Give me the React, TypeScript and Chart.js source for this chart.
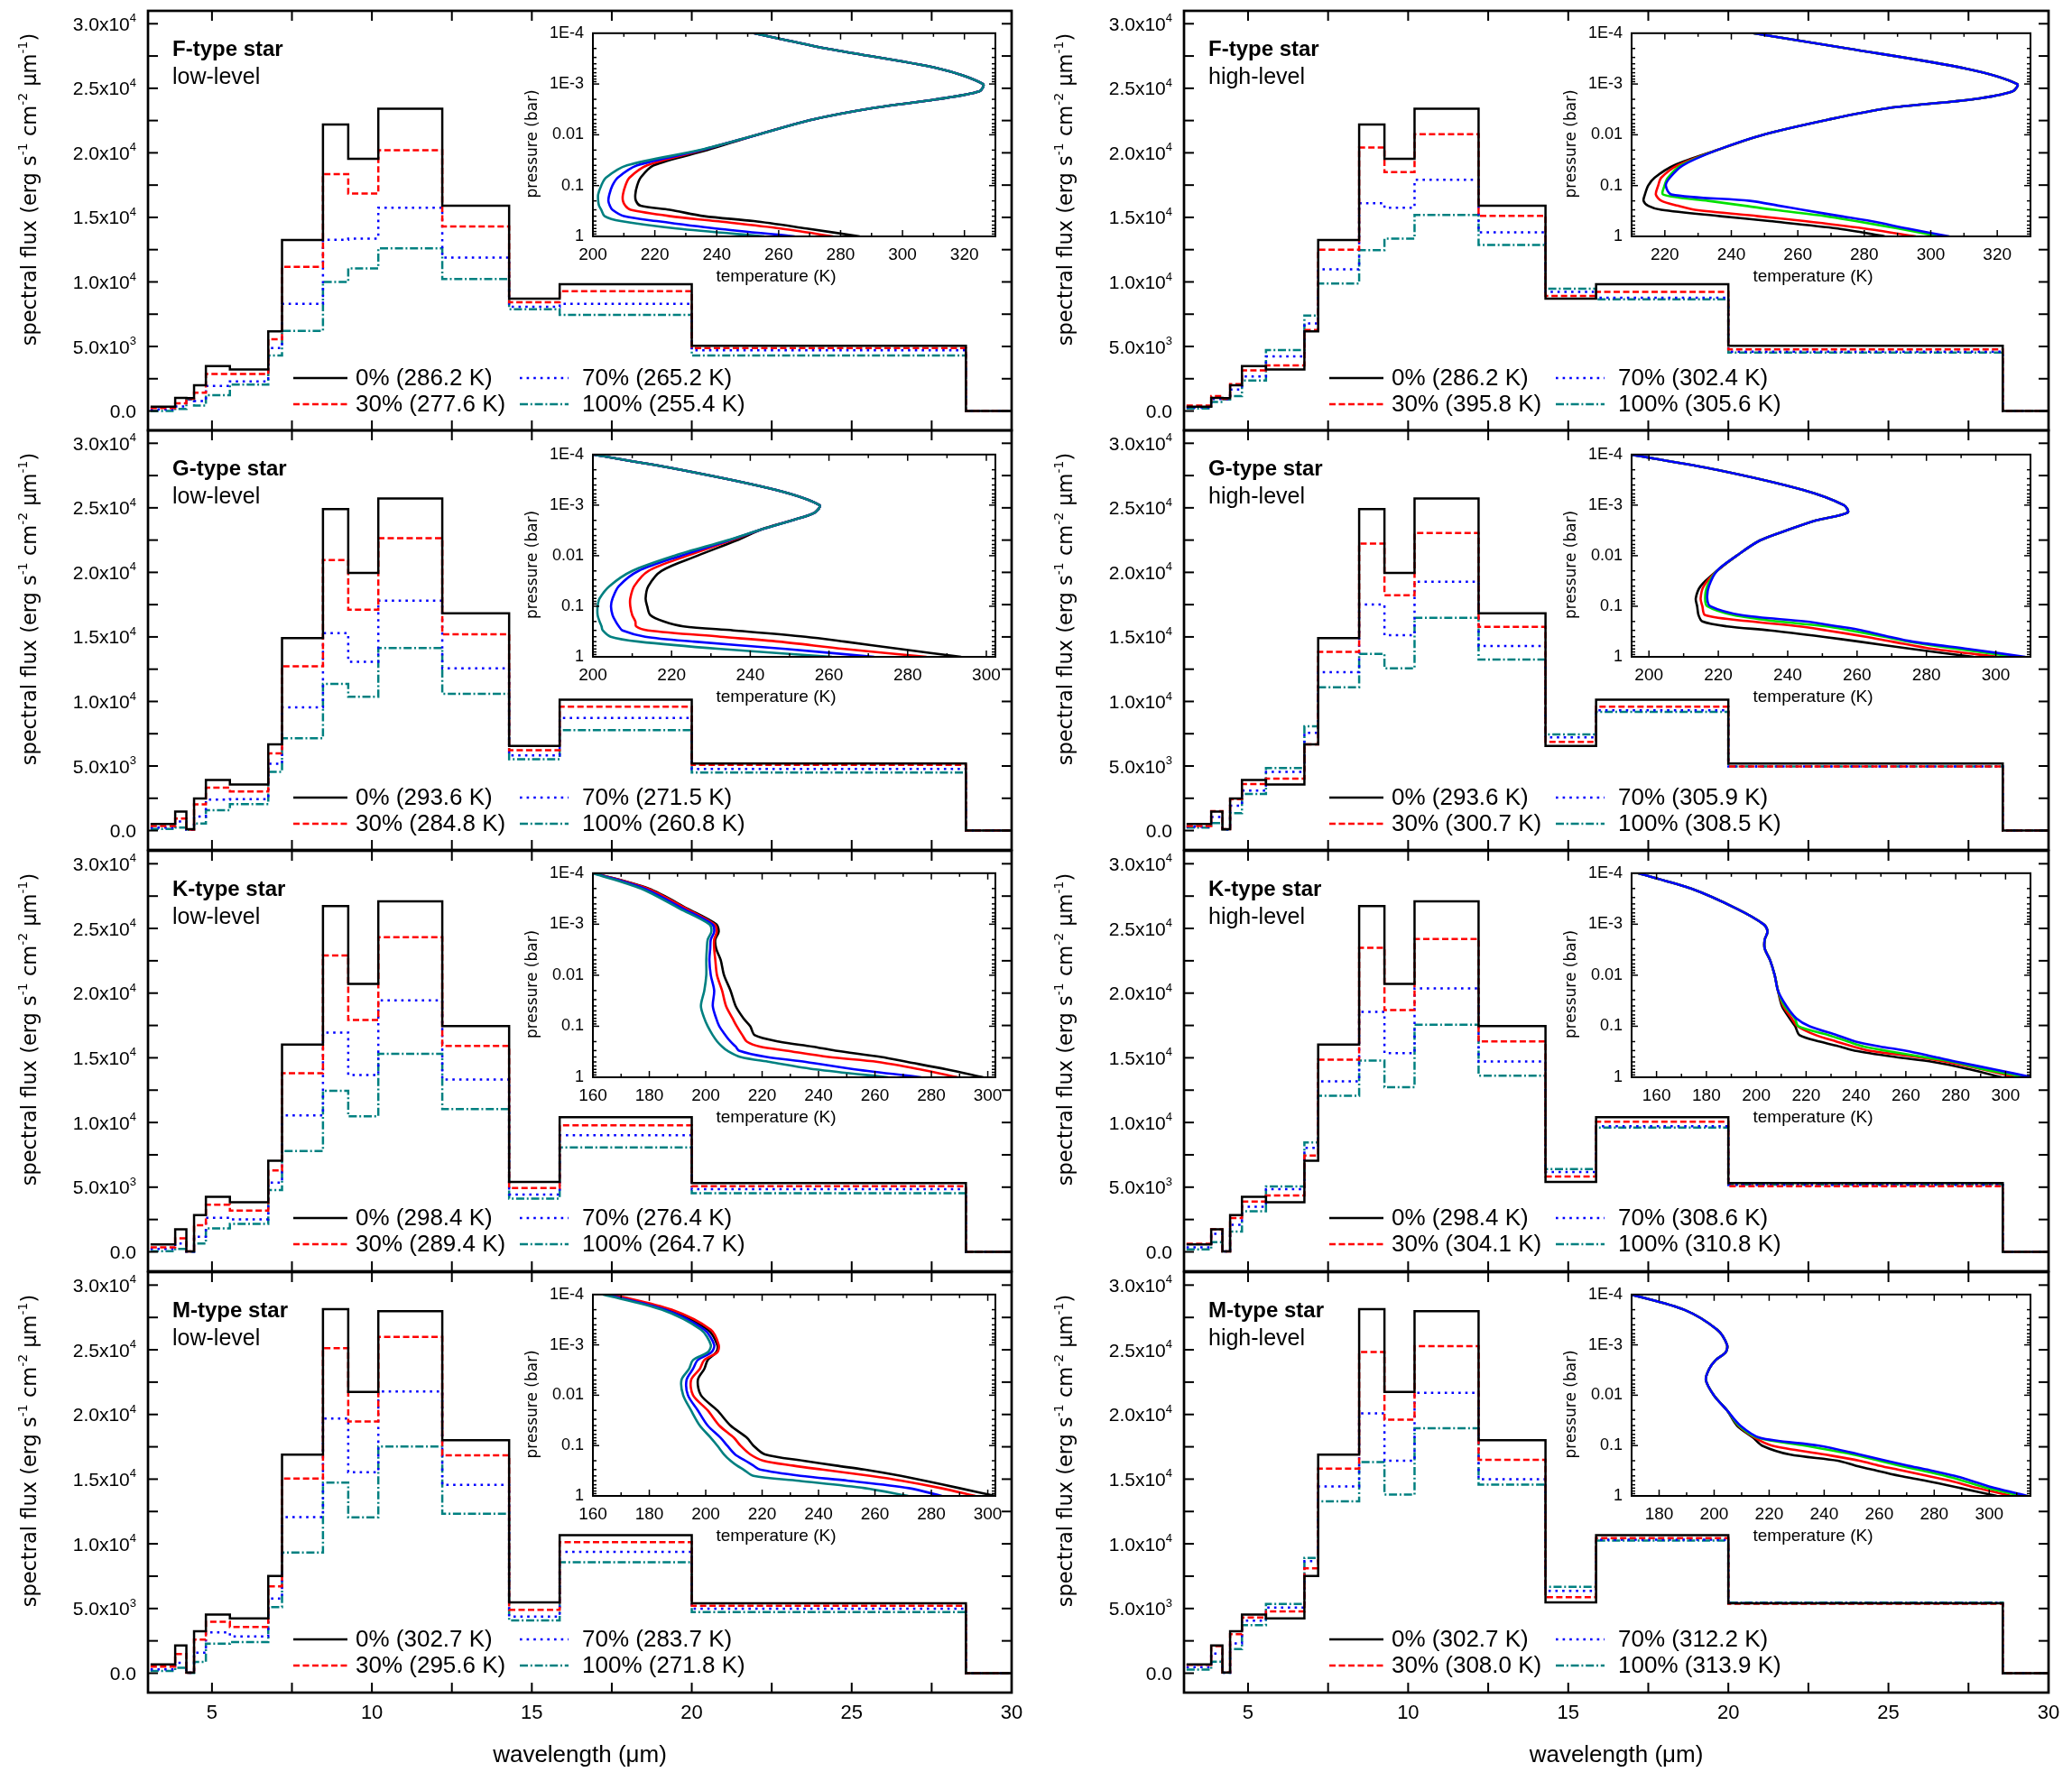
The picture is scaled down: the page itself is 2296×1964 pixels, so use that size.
import React, { useEffect, useRef } from 'react';
import { Chart, registerables } from 'chart.js';

Chart.register(...registerables);

// ---------- wavelength bin edges (µm) ----------
const EDGES = [3.08, 3.85, 4.2, 4.44, 4.81, 5.56, 6.76, 7.19, 8.47, 9.26, 10.2, 12.2, 14.29, 15.87, 20.0, 28.57, 30.0];
const TAIL_FLUX = 0; // flux in the last bin (28.57-30 µm)

// ---------- spectral flux per bin (erg s-1 cm-2 µm-1) ----------
const fLow0 = [330, 1010, 1000, 1995, 3474, 3215, 6163, 13256, 22190, 19538, 23420, 15910, 8700, 9815, 5047];
const fLow30 = [235, 590, 950, 1410, 2860, 2860, 5560, 11165, 18350, 16840, 20210, 14300, 8420, 9280, 4885];
const fLow70 = [120, 350, 900, 775, 1950, 2300, 4885, 8300, 13260, 13350, 15750, 11890, 8070, 8300, 4700];
const fLow100 = [0, 160, 900, 420, 1220, 2040, 4300, 6210, 10000, 11050, 12600, 10230, 7890, 7440, 4300];

const fHigh0 = fLow0;
const fHigh30 = [420, 1160, 950, 2090, 3140, 3530, 6280, 12490, 20420, 18510, 21440, 15120, 8910, 9230, 4770];
const fHigh70 = [280, 930, 920, 1670, 2670, 4230, 6790, 10980, 16100, 15740, 17910, 13840, 9230, 8770, 4600];
const fHigh100 = [190, 700, 900, 1160, 2370, 4720, 7400, 9880, 12460, 13350, 15190, 12860, 9470, 8650, 4530];

const gLow0 = [510, 1470, 100, 2490, 3910, 3560, 6680, 14900, 24910, 19950, 25720, 16830, 6560, 10130, 5190];
const gLow30 = [350, 930, 80, 2030, 3330, 3030, 5980, 12730, 20950, 17110, 22650, 15200, 6220, 9590, 5080];
const gLow70 = [230, 700, 60, 1090, 2400, 2440, 5170, 9540, 15290, 13080, 17810, 12570, 5820, 8730, 4770];
const gLow100 = [120, 230, 50, 540, 1580, 2050, 4540, 7150, 11360, 10360, 14130, 10590, 5520, 7780, 4490];

const gHigh0 = gLow0;
const gHigh30 = [350, 1510, 100, 2440, 3610, 4030, 6680, 13850, 22230, 18230, 23050, 15780, 6870, 9590, 4960];
const gHigh70 = [300, 1050, 90, 1930, 3100, 4540, 7570, 12270, 17510, 15130, 19280, 14290, 7220, 9310, 4960];
const gHigh100 = [230, 580, 80, 1350, 2840, 4840, 8080, 11100, 13690, 12570, 16480, 13250, 7450, 9200, 4960];

const kLow0 = [580, 1750, 30, 2840, 4260, 3840, 7050, 16020, 26730, 20720, 27100, 17460, 5400, 10410, 5310];
const kLow30 = [350, 1050, 30, 2050, 3650, 3190, 6290, 13800, 22910, 17930, 24330, 15920, 4940, 9780, 5080];
const kLow70 = [230, 650, 20, 1160, 2630, 2510, 5350, 10550, 16950, 13670, 19440, 13320, 4420, 9010, 4840];
const kLow100 = [50, 230, 20, 650, 1820, 2170, 4770, 7800, 12450, 10480, 15300, 11030, 4120, 8080, 4540];

const kHigh0 = kLow0;
const kHigh30 = [630, 1750, 30, 2610, 3890, 4350, 7450, 14850, 23510, 18690, 24190, 16270, 5820, 10060, 5080];
const kHigh70 = [350, 1400, 30, 2100, 3490, 4840, 8030, 13180, 18550, 15360, 20370, 14710, 6170, 9710, 5170];
const kHigh100 = [190, 750, 30, 1560, 3140, 5050, 8450, 12060, 14780, 12730, 17550, 13620, 6400, 9610, 5190];

const mLow0 = [680, 2150, 50, 3240, 4530, 4230, 7510, 16890, 28140, 21750, 27990, 18010, 5470, 10670, 5400];
const mLow30 = [500, 1490, 40, 2590, 3980, 3580, 6720, 15050, 25130, 19460, 26000, 16840, 4900, 10130, 5220];
const mLow70 = [300, 800, 30, 1590, 3160, 2840, 5770, 12070, 19680, 15530, 21770, 14560, 4380, 9380, 4980];
const mLow100 = [170, 420, 20, 870, 2290, 2410, 5100, 9330, 14730, 12040, 17520, 12320, 4080, 8580, 4730];

const mHigh0 = mLow0;
const mHigh30 = [650, 2090, 50, 3020, 4300, 4770, 8110, 15820, 24830, 19600, 25280, 16500, 5870, 10450, 5370];
const mHigh70 = [465, 1510, 40, 2300, 4070, 5070, 8660, 14430, 20080, 16420, 21670, 15000, 6370, 10330, 5420];
const mHigh100 = [280, 880, 30, 1860, 3720, 5350, 8910, 13290, 16320, 13810, 18930, 14580, 6670, 10250, 5450];

// ---------- legend texts ----------
const CLOUD_PCT = ['0%', '30%', '70%', '100%'];
const fLowSurf = ['286.2', '277.6', '265.2', '255.4'];
const fHighSurf = ['286.2', '395.8', '302.4', '305.6'];
const gLowSurf = ['293.6', '284.8', '271.5', '260.8'];
const gHighSurf = ['293.6', '300.7', '305.9', '308.5'];
const kLowSurf = ['298.4', '289.4', '276.4', '264.7'];
const kHighSurf = ['298.4', '304.1', '308.6', '310.8'];
const mLowSurf = ['302.7', '295.6', '283.7', '271.8'];
const mHighSurf = ['302.7', '308.0', '312.2', '313.9'];

// ---------- temperature profiles (inset) ----------
const P_LEVELS = [1e-4, 2e-4, 5e-4, 1e-3, 1.4e-3, 2e-3, 3e-3, 5e-3, 0.01, 0.02, 0.04, 0.07, 0.1, 0.15, 0.2, 0.25, 0.3, 0.4, 0.5, 0.7, 1.0];

const fLowT0 = [252, 275.4, 312, 326, 324.8, 311, 290, 271, 253, 237, 219.6, 215.4, 214.3, 213.7, 213.9, 215.4, 224.8, 236, 252, 269, 286.2];
const fLowT30 = [252, 275.4, 312, 326, 324.8, 311, 290, 271, 253, 235.4, 217.5, 211.8, 210.5, 209.7, 209.7, 210.5, 212.2, 225, 239.6, 260.6, 277.6];
const fLowT70 = [252, 275.4, 312, 326, 324.8, 311, 290, 271, 253, 235, 214.3, 208, 206.3, 205.3, 205, 205.5, 206.3, 210, 220.6, 239.6, 265.2];
const fLowT100 = [252, 275.4, 312, 326, 324.8, 311, 290, 271, 253, 234.5, 211, 204.2, 202.7, 201.7, 201.7, 202, 202.7, 203.8, 209, 227, 255.4];

const fHighT0 = [246.6, 275, 310.8, 326, 324.6, 312.8, 287, 269.3, 249.5, 235.7, 222.8, 216.9, 215, 214, 213.6, 215, 218.9, 236.7, 251.5, 272, 286.2];
const fHighT30 = [246.6, 275, 310.8, 326, 324.6, 312.8, 287, 269.3, 249.5, 235.7, 223.8, 218.9, 218, 217.3, 219, 224, 229, 248, 262, 280, 295.5];
const fHighT70 = [246.6, 275, 310.8, 326, 324.6, 312.8, 287, 269.3, 249.5, 235.7, 224.8, 220.9, 219.9, 219.5, 233.1, 244.2, 252.9, 268.5, 277.4, 290.2, 302.4];
const fHighT100 = [246.6, 275, 310.8, 326, 324.6, 312.8, 287, 269.3, 249.5, 235.7, 225.4, 221.5, 220.3, 222, 245.6, 254.5, 261.4, 273, 282, 293, 305.6];

const gLowT0 = [200, 222.4, 246.5, 257.6, 256.4, 250.6, 243, 236.5, 226.6, 217.4, 214.1, 213.4, 213.8, 214.6, 218, 223, 235.7, 254, 264, 278, 293.6];
const gLowT30 = [200, 222.4, 246.5, 257.6, 256.4, 250.6, 243, 235, 224, 214.1, 210.5, 209.5, 209.5, 210, 210.8, 211, 214, 232.4, 247.3, 263.9, 284.8];
const gLowT70 = [200, 222.4, 246.5, 257.6, 256.4, 250.6, 243, 234.5, 222.4, 211.6, 206.6, 205, 204.6, 205, 205.8, 206.6, 207.5, 213.3, 225.7, 249, 271.5];
const gLowT100 = [200, 222.4, 246.5, 257.6, 256.4, 250.6, 243, 234, 220.7, 210, 204.2, 201.7, 201.2, 201.2, 201.7, 202.2, 202.5, 204.5, 211.6, 232.4, 260.8];

const gHighT0 = [194.9, 219.6, 244.4, 256.2, 257.3, 248.2, 240.6, 232, 225.3, 219.6, 214.9, 213.5, 213.9, 214.3, 215.4, 222.5, 234.9, 250.1, 260.6, 275.8, 293.6];
const gHighT30 = [194.9, 219.6, 244.4, 256.2, 257.3, 248.2, 240.6, 232, 225.3, 219.6, 215.8, 214.9, 215.4, 216.2, 229.5, 243.4, 251.2, 262.5, 270.1, 282, 300.7];
const gHighT70 = [194.9, 219.6, 244.4, 256.2, 257.3, 248.2, 240.6, 232, 225.3, 219.6, 216.8, 216.2, 216.8, 224.4, 237.3, 251.2, 257.9, 267.8, 274.9, 289, 305.9];
const gHighT100 = [194.9, 219.6, 244.4, 256.2, 257.3, 248.2, 240.6, 232, 225.3, 219.6, 217.3, 216.8, 217.7, 226.7, 245.1, 254.5, 261.5, 269.2, 276, 292, 308.5];

const kLowT0 = [160.5, 179.7, 193.7, 203.7, 204.6, 203.4, 203.7, 205.3, 206.5, 208.8, 210.6, 213.4, 215.8, 217.4, 226, 237.8, 246, 262.2, 271.5, 285.4, 298.4];
const kLowT30 = [160.5, 179.2, 193.2, 203, 203.9, 203, 203, 203.4, 204, 205.8, 207.2, 209.5, 211, 213, 214.6, 219.2, 228.5, 243.6, 261, 276, 289.4];
const kLowT70 = [160.3, 178.1, 192.1, 202.3, 203, 201.8, 201.6, 201.3, 201.8, 203, 202.5, 203.7, 204.8, 207, 208.8, 210.6, 211.8, 221.6, 235.5, 252.9, 276.4];
const kLowT100 = [160, 177, 190.9, 201.3, 202, 200.7, 200.4, 200.2, 200.2, 199.5, 198.3, 199.5, 200.7, 202.5, 204.1, 205.8, 207.6, 212.3, 222.7, 239, 264.7];

const kHighT0 = [152.6, 173.8, 192.3, 202.9, 204.5, 203.4, 203.4, 205.5, 207.4, 208.7, 210.3, 213.4, 215.6, 217.4, 225.6, 233.6, 239.4, 255.8, 270.9, 285.7, 298.4];
const kHighT30 = [152.6, 173.8, 192.3, 202.9, 204.5, 203.4, 203.4, 205.5, 207.4, 208.7, 210.8, 214.2, 216.6, 224, 232.2, 238.9, 245.2, 264.5, 276.4, 290.7, 304.1];
const kHighT70 = [152.6, 173.8, 192.3, 202.9, 204.5, 203.4, 203.4, 205.5, 207.4, 208.7, 211.3, 215.5, 216.9, 229.2, 236.9, 243.2, 251.8, 266.9, 279, 291.5, 308.6];
const kHighT100 = [152.6, 173.8, 192.3, 202.9, 204.5, 203.4, 203.4, 205.5, 207.4, 208.7, 212.1, 216.1, 221.4, 232.5, 239.9, 249.7, 259.8, 271.7, 280.7, 295.5, 310.8];

const mLowT0 = [165.8, 186.7, 200.7, 204.1, 203.7, 200.7, 199.5, 197.2, 198.3, 204.1, 208.8, 214.6, 216.9, 221, 234.6, 246.2, 256.2, 269.2, 277.8, 289.9, 302.7];
const mLowT30 = [167, 187.9, 201.8, 204.6, 204.1, 199.5, 197.9, 194.8, 195.5, 200.7, 204.8, 210, 212.3, 215.8, 220.4, 230.9, 241.3, 258.3, 269.6, 283.4, 295.6];
const mLowT70 = [164.6, 185.6, 199.5, 203, 202, 197.2, 195.5, 193.2, 193.7, 197.2, 200.7, 205.3, 207.6, 210.4, 214.1, 216.9, 219.2, 233.6, 250.6, 272, 283.7];
const mLowT100 = [163.5, 184.4, 198.3, 201.8, 200.7, 195.5, 194.1, 191.4, 192, 194.8, 197.9, 201.8, 204.1, 206.5, 208.8, 211.1, 213.4, 216.9, 233, 256.4, 271.8];

const mHighT0 = [170, 189.1, 201.1, 204.7, 204.2, 200.6, 198.2, 197, 199.9, 204.7, 208.3, 214.2, 217.4, 227.4, 245, 251.4, 257.4, 267.4, 277, 289.7, 302.7];
const mHighT30 = [170, 189.1, 201.1, 204.7, 204.2, 200.6, 198.2, 197, 199.9, 204.7, 208.8, 214.9, 221, 240, 252.8, 260, 266.7, 277.5, 285.9, 295.7, 308];
const mHighT70 = [170, 189.1, 201.1, 204.7, 204.2, 200.6, 198.2, 197, 199.9, 204.7, 209, 215.9, 233, 250.4, 260, 267.4, 273.9, 284, 290.4, 299.3, 312.2];
const mHighT100 = [170, 189.1, 201.1, 204.7, 204.2, 200.6, 198.2, 197, 199.9, 204.7, 209.5, 216.6, 238, 252.8, 262.6, 270.5, 277.5, 287.5, 293.5, 302.1, 313.9];

// inset temperature axis ranges (K)
const fLowTRange = [200, 330];
const fHighTRange = [210, 330];
const gLowTRange = [200, 302.3];
const gHighTRange = [195, 310];
const kLowTRange = [160, 302.7];
const kHighTRange = [150, 310];
const mLowTRange = [160, 302.7];
const mHighTRange = [170, 315];

// main y-axis range and ticks
const FLUX_RANGE = [-1500, 31000];
const FLUX_TICKS = [0, 5000, 10000, 15000, 20000, 25000, 30000];
const WL_TICKS = [5, 10, 15, 20, 25, 30];
const P_TICKS = [1e-4, 1e-3, 1e-2, 1e-1, 1];
const P_TICK_LABELS = ['1E-4', '1E-3', '0.01', '0.1', '1'];

// ---------- styles / layout ----------
const SANS = "'Liberation Sans', Arial, sans-serif";
const WIDE = "'DejaVu Sans', sans-serif";
const LOW_COLORS = ['#000000', '#ff0000', '#0000ff', '#008080'];
const HIGH_INSET_COLORS = ['#000000', '#ff0000', '#00e000', '#0000ff'];
const DASHES = [[], [7, 3.5], [2.6, 5], [9, 2.8, 2, 2.8]];

const COL_LEFT = [164, 1312];
const COL_RIGHT = [1121, 2270];
const ROW_TOP = [12, 477, 943, 1410];
const ROW_BOTTOM = [477, 942, 1409, 1876];
const INSET_LEFT = [657, 1808];
const INSET_RIGHT = [1103, 2250];
const INSET_TOP = [31, 498, 962, 1429];
const INSET_BOTTOM = [262, 728, 1194, 1658];

type Panel = {
  col: number; row: number; star: string; level: string; high: boolean;
  flux: number[][]; surf: string[]; tp: number[][]; tRange: number[];
};

const PANELS: Panel[] = [
  { col: 0, row: 0, star: 'F-type star', level: 'low-level', high: false, flux: [fLow0, fLow30, fLow70, fLow100], surf: fLowSurf, tp: [fLowT0, fLowT30, fLowT70, fLowT100], tRange: fLowTRange },
  { col: 1, row: 0, star: 'F-type star', level: 'high-level', high: true, flux: [fHigh0, fHigh30, fHigh70, fHigh100], surf: fHighSurf, tp: [fHighT0, fHighT30, fHighT70, fHighT100], tRange: fHighTRange },
  { col: 0, row: 1, star: 'G-type star', level: 'low-level', high: false, flux: [gLow0, gLow30, gLow70, gLow100], surf: gLowSurf, tp: [gLowT0, gLowT30, gLowT70, gLowT100], tRange: gLowTRange },
  { col: 1, row: 1, star: 'G-type star', level: 'high-level', high: true, flux: [gHigh0, gHigh30, gHigh70, gHigh100], surf: gHighSurf, tp: [gHighT0, gHighT30, gHighT70, gHighT100], tRange: gHighTRange },
  { col: 0, row: 2, star: 'K-type star', level: 'low-level', high: false, flux: [kLow0, kLow30, kLow70, kLow100], surf: kLowSurf, tp: [kLowT0, kLowT30, kLowT70, kLowT100], tRange: kLowTRange },
  { col: 1, row: 2, star: 'K-type star', level: 'high-level', high: true, flux: [kHigh0, kHigh30, kHigh70, kHigh100], surf: kHighSurf, tp: [kHighT0, kHighT30, kHighT70, kHighT100], tRange: kHighTRange },
  { col: 0, row: 3, star: 'M-type star', level: 'low-level', high: false, flux: [mLow0, mLow30, mLow70, mLow100], surf: mLowSurf, tp: [mLowT0, mLowT30, mLowT70, mLowT100], tRange: mLowTRange },
  { col: 1, row: 3, star: 'M-type star', level: 'high-level', high: true, flux: [mHigh0, mHigh30, mHigh70, mHigh100], surf: mHighSurf, tp: [mHighT0, mHighT30, mHighT70, mHighT100], tRange: mHighTRange },
];

// ---------- helpers ----------
type Part = [string, boolean];

function richText(ctx: CanvasRenderingContext2D, parts: Part[], x: number, y: number, size: number, family: string, align: 'left' | 'right' | 'center', weight = '') {
  const supSize = Math.round(size * 0.6);
  const widths = parts.map(([t, sup]) => {
    ctx.font = `${weight} ${sup ? supSize : size}px ${family}`;
    return ctx.measureText(t).width;
  });
  const total = widths.reduce((a, b) => a + b, 0);
  let cx = align === 'left' ? x : align === 'right' ? x - total : x - total / 2;
  ctx.textAlign = 'left';
  ctx.textBaseline = 'alphabetic';
  parts.forEach(([t, sup], i) => {
    ctx.font = `${weight} ${sup ? supSize : size}px ${family}`;
    ctx.fillText(t, cx, sup ? y - size * 0.45 : y);
    cx += widths[i];
  });
}

function line(ctx: CanvasRenderingContext2D, x1: number, y1: number, x2: number, y2: number) {
  ctx.beginPath();
  ctx.moveTo(x1, y1);
  ctx.lineTo(x2, y2);
  ctx.stroke();
}

function fluxLabel(v: number): Part[] {
  if (v === 0) return [['0.0', false]];
  const e = v >= 10000 ? 4 : 3;
  return [[(v / Math.pow(10, e)).toFixed(1) + 'x10', false], [String(e), true]];
}

function stepPoints(vals: number[]) {
  const pts: { x: number; y: number }[] = [];
  const all = [...vals, TAIL_FLUX];
  for (let i = 0; i < all.length; i++) {
    pts.push({ x: EDGES[i], y: all[i] });
    pts.push({ x: EDGES[i + 1], y: all[i] });
  }
  return pts;
}

function mainGeom(p: Panel) {
  const bottomRow = p.row === 3;
  const plotW = COL_RIGHT[p.col] - COL_LEFT[p.col];
  const plotH = ROW_BOTTOM[p.row] - ROW_TOP[p.row];
  return {
    left: COL_LEFT[p.col] - 160,
    top: ROW_TOP[p.row] - 10,
    width: 160 + plotW + 30,
    height: 10 + plotH + (bottomRow ? 95 : 10),
    bottomRow,
  };
}

function insetGeom(p: Panel) {
  const w = INSET_RIGHT[p.col] - INSET_LEFT[p.col];
  const h = INSET_BOTTOM[p.row] - INSET_TOP[p.row];
  return { left: INSET_LEFT[p.col] - 80, top: INSET_TOP[p.row] - 15, width: 80 + w + 25, height: 15 + h + 65 };
}

function mainConfig(p: Panel): any {
  const g = mainGeom(p);
  const datasets = p.flux.map((vals, i) => ({
    label: CLOUD_PCT[i],
    data: stepPoints(vals),
    borderColor: LOW_COLORS[i],
    borderWidth: 2.5,
    borderDash: DASHES[i],
    pointRadius: 0,
    fill: false,
    tension: 0,
  }));
  const plugin = {
    id: 'mainDecor' + p.col + p.row,
    afterDraw(chart: any) {
      const { ctx, chartArea: a, scales } = chart;
      const xs = scales.x;
      const ys = scales.y;
      ctx.save();
      ctx.strokeStyle = '#000';
      ctx.fillStyle = '#000';
      ctx.setLineDash([]);
      ctx.lineWidth = 2;
      for (let v = 5; v < 30; v += 2.5) {
        const px = xs.getPixelForValue(v);
        line(ctx, px, a.top, px, a.top + 11);
        line(ctx, px, a.bottom, px, a.bottom - 11);
      }
      for (let v = 0; v <= 30000; v += 2500) {
        const py = ys.getPixelForValue(v);
        line(ctx, a.left, py, a.left + 11, py);
        line(ctx, a.right, py, a.right - 11, py);
      }
      ctx.lineWidth = 2.7;
      ctx.strokeRect(a.left, a.top, a.right - a.left, a.bottom - a.top);
      // y tick labels
      for (const t of ys.ticks) {
        const py = ys.getPixelForValue(t.value);
        richText(ctx, fluxLabel(t.value), a.left - 13, py + 7.5, 21, SANS, 'right');
      }
      // y title
      ctx.save();
      ctx.translate(a.left - 132, a.top + 198);
      ctx.rotate(-Math.PI / 2);
      richText(ctx, [['spectral flux (erg s', false], ['-1', true], [' cm', false], ['-2', true], [' μm', false], ['-1', true], [')', false]], 0, 8, 22.5, WIDE, 'center');
      ctx.restore();
      // panel labels
      ctx.textAlign = 'left';
      ctx.textBaseline = 'alphabetic';
      ctx.font = `bold 24px ${SANS}`;
      ctx.fillText(p.star, a.left + 27, a.top + 50);
      ctx.font = `25px ${SANS}`;
      ctx.fillText(p.level, a.left + 27, a.top + 81);
      // legend
      for (let i = 0; i < 4; i++) {
        const c = i < 2 ? 0 : 1;
        const r = i % 2;
        const yy = a.top + (r ? 436 : 407);
        const s0 = a.left + (c ? 412 : 161);
        const s1 = a.left + (c ? 466 : 221);
        const tx = a.left + (c ? 481 : 230);
        ctx.strokeStyle = LOW_COLORS[i];
        ctx.lineWidth = 2.5;
        ctx.setLineDash(DASHES[i]);
        line(ctx, s0, yy, s1, yy);
        ctx.setLineDash([]);
        ctx.font = `26px ${SANS}`;
        ctx.fillStyle = '#000';
        ctx.textBaseline = 'middle';
        ctx.fillText(`${CLOUD_PCT[i]} (${p.surf[i]} K)`, tx, yy + 1);
      }
      // x title
      if (g.bottomRow) {
        ctx.textAlign = 'center';
        ctx.textBaseline = 'alphabetic';
        ctx.font = `26px ${SANS}`;
        ctx.fillText('wavelength (μm)', (a.left + a.right) / 2, a.bottom + 77);
      }
      ctx.restore();
    },
  };
  return {
    type: 'line',
    data: { datasets },
    plugins: [plugin],
    options: {
      responsive: false,
      animation: false,
      devicePixelRatio: 1,
      events: [],
      layout: { padding: { left: 10, right: 30, top: 10, bottom: g.bottomRow ? 0 : 10 } },
      plugins: { legend: { display: false }, tooltip: { enabled: false } },
      scales: {
        x: {
          type: 'linear', min: 3, max: 30,
          grid: { display: false, drawTicks: false, tickLength: 0 },
          border: { display: false },
          ticks: { display: g.bottomRow, color: '#000', font: { family: SANS, size: 22 }, padding: 10, maxRotation: 0 },
          afterBuildTicks: (s: any) => { s.ticks = WL_TICKS.map((v) => ({ value: v })); },
          afterFit: (s: any) => { s.height = g.bottomRow ? 95 : 0; },
        },
        y: {
          type: 'linear', min: FLUX_RANGE[0], max: FLUX_RANGE[1],
          grid: { display: false, drawTicks: false, tickLength: 0 },
          border: { display: false },
          ticks: { display: false },
          afterBuildTicks: (s: any) => { s.ticks = FLUX_TICKS.map((v) => ({ value: v })); },
          afterFit: (s: any) => { s.width = 150; },
        },
      },
    },
  };
}

function insetConfig(p: Panel): any {
  const colors = p.high ? HIGH_INSET_COLORS : LOW_COLORS;
  const datasets = p.tp.map((ts, i) => ({
    label: CLOUD_PCT[i],
    data: ts.map((t, k) => ({ x: t, y: P_LEVELS[k] })),
    borderColor: colors[i],
    borderWidth: 2.6,
    pointRadius: 0,
    fill: false,
    tension: 0.3,
  })).reverse();
  const [tMin, tMax] = p.tRange;
  const majorT: number[] = [];
  for (let v = Math.ceil(tMin / 20) * 20; v <= tMax; v += 20) majorT.push(v);
  const plugin = {
    id: 'insetDecor' + p.col + p.row,
    beforeDraw(chart: any) {
      const { ctx, chartArea: a } = chart;
      ctx.save();
      ctx.fillStyle = '#fff';
      ctx.fillRect(a.left, a.top, a.right - a.left, a.bottom - a.top);
      ctx.restore();
    },
    afterDraw(chart: any) {
      const { ctx, chartArea: a, scales } = chart;
      const xs = scales.x;
      const ys = scales.y;
      ctx.save();
      ctx.strokeStyle = '#000';
      ctx.fillStyle = '#000';
      ctx.lineWidth = 1.5;
      for (let v = Math.ceil(tMin / 10) * 10; v < tMax; v += 10) {
        if (v <= tMin) continue;
        const len = v % 20 === 0 ? 7 : 4;
        const px = xs.getPixelForValue(v);
        line(ctx, px, a.bottom, px, a.bottom - len);
        line(ctx, px, a.top, px, a.top + len);
      }
      for (let d = -4; d < 0; d++) {
        for (let k = 1; k <= 9; k++) {
          const v = k * Math.pow(10, d);
          if (v <= 1e-4) continue;
          const len = k === 1 ? 7 : 4;
          const py = ys.getPixelForValue(v);
          line(ctx, a.left, py, a.left + len, py);
          line(ctx, a.right, py, a.right - len, py);
        }
      }
      ctx.lineWidth = 2;
      ctx.strokeRect(a.left, a.top, a.right - a.left, a.bottom - a.top);
      // titles
      ctx.save();
      ctx.translate(a.left - 66, (a.top + a.bottom) / 2 + 10);
      ctx.rotate(-Math.PI / 2);
      ctx.textAlign = 'center';
      ctx.textBaseline = 'middle';
      ctx.font = `17px ${WIDE}`;
      ctx.fillText('pressure (bar)', 0, 0);
      ctx.restore();
      ctx.textAlign = 'center';
      ctx.textBaseline = 'middle';
      ctx.font = `19px ${SANS}`;
      ctx.fillText('temperature (K)', (a.left + a.right) / 2 - 20, a.bottom + 45);
      ctx.restore();
    },
  };
  return {
    type: 'line',
    data: { datasets },
    plugins: [plugin],
    options: {
      responsive: false,
      animation: false,
      devicePixelRatio: 1,
      events: [],
      layout: { padding: { left: 20, right: 25, top: 15, bottom: 25 } },
      plugins: { legend: { display: false }, tooltip: { enabled: false } },
      scales: {
        x: {
          type: 'linear', min: tMin, max: tMax,
          grid: { display: false, drawTicks: false, tickLength: 0 },
          border: { display: false },
          ticks: { color: '#000', font: { family: SANS, size: 19 }, padding: 9, maxRotation: 0, autoSkip: false },
          afterBuildTicks: (s: any) => { s.ticks = majorT.map((v) => ({ value: v })); },
          afterFit: (s: any) => { s.height = 40; },
        },
        y: {
          type: 'logarithmic', min: 1e-4, max: 1, reverse: true,
          grid: { display: false, drawTicks: false, tickLength: 0 },
          border: { display: false },
          ticks: {
            color: '#000', font: { family: SANS, size: 18 }, padding: 10, autoSkip: false,
            callback: (v: number) => {
              const idx = P_TICKS.findIndex((t) => Math.abs(Math.log10(t) - Math.log10(v)) < 1e-6);
              return idx >= 0 ? P_TICK_LABELS[idx] : '';
            },
          },
          afterBuildTicks: (s: any) => { s.ticks = P_TICKS.map((v) => ({ value: v })); },
          afterFit: (s: any) => { s.width = 60; },
        },
      },
    },
  };
}

export default function App() {
  const mainRefs = useRef<(HTMLCanvasElement | null)[]>([]);
  const insetRefs = useRef<(HTMLCanvasElement | null)[]>([]);

  useEffect(() => {
    const charts: Chart[] = [];
    PANELS.forEach((p, i) => {
      const m = mainRefs.current[i];
      const ins = insetRefs.current[i];
      if (m) charts.push(new Chart(m, mainConfig(p)));
      if (ins) charts.push(new Chart(ins, insetConfig(p)));
    });
    return () => charts.forEach((c) => c.destroy());
  }, []);

  return (
    <div style={{ position: 'absolute', left: 0, top: 0, width: 2296, height: 1964, background: '#fff', overflow: 'hidden' }}>
      {PANELS.map((p, i) => {
        const g = mainGeom(p);
        const ig = insetGeom(p);
        return (
          <React.Fragment key={i}>
            <canvas
              ref={(el) => { mainRefs.current[i] = el; }}
              width={g.width}
              height={g.height}
              style={{ position: 'absolute', left: g.left, top: g.top, width: g.width, height: g.height }}
            />
            <canvas
              ref={(el) => { insetRefs.current[i] = el; }}
              width={ig.width}
              height={ig.height}
              style={{ position: 'absolute', left: ig.left, top: ig.top, width: ig.width, height: ig.height }}
            />
          </React.Fragment>
        );
      })}
    </div>
  );
}
